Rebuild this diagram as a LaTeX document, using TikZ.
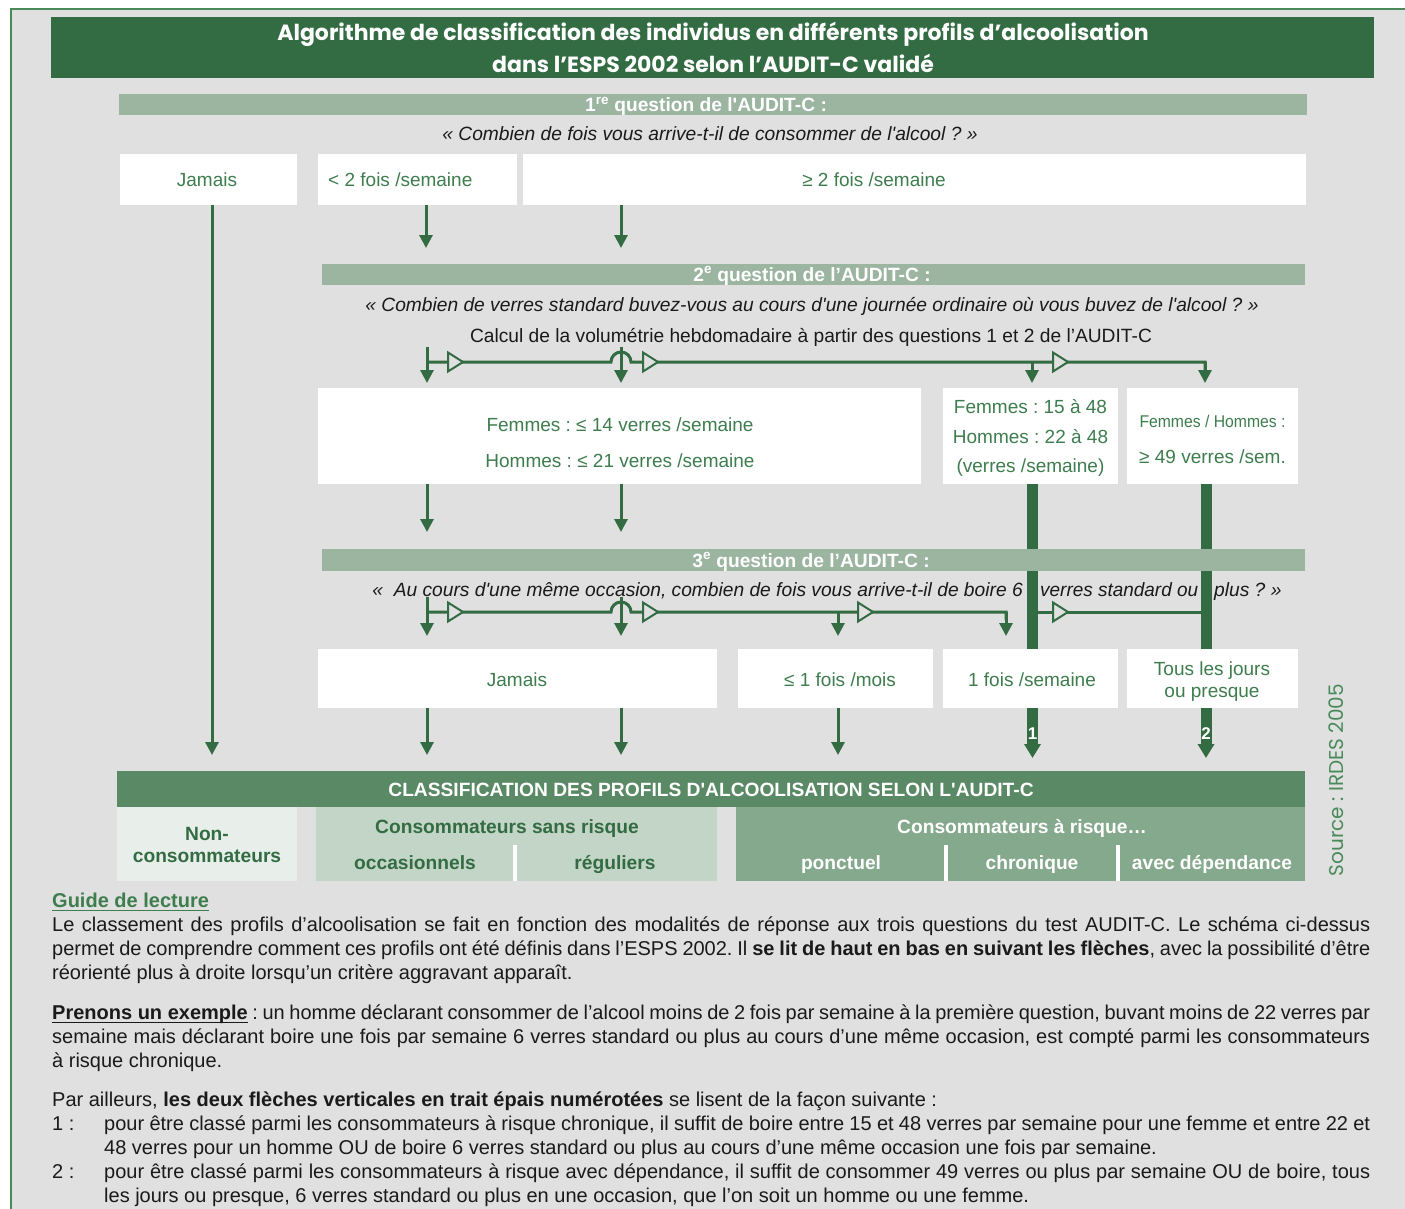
\documentclass[tikz,border=0pt]{standalone}
\usepackage{graphicx}
\usepackage{fontspec}
\setmainfont{Liberation Sans}
\newfontfamily\titlefont{Poppins}
\usetikzlibrary{arrows.meta}
\definecolor{dkgreen}{HTML}{336B42}
\definecolor{framegreen}{HTML}{4A8A5A}
\definecolor{qgreen}{HTML}{9BB5A0}
\definecolor{hdgreen}{HTML}{5A8A65}
\definecolor{argreen}{HTML}{85A98C}
\definecolor{srgreen}{HTML}{C3D5C7}
\definecolor{ncgreen}{HTML}{E8EFEA}
\definecolor{boxgreen}{HTML}{3E7D4E}
\definecolor{bgray}{HTML}{E0E0E0}
\definecolor{ink}{HTML}{1A1A1A}
\newcommand\myfs[2]{\fontsize{#1}{#2}\selectfont}
\newcommand\myul[1]{\leavevmode\setbox0\hbox{#1}\rlap{\rule[-3.2pt]{\wd0}{1.3pt}}\box0\relax}
\newcommand\otri[2]{\draw[draw=dkgreen, line width=2pt, fill=bgray, line join=miter] (#1,#2-9.5) -- (#1+15,#2) -- (#1,#2+9.5) -- cycle;}
\frenchspacing
\begin{document}
\begin{tikzpicture}[x=1pt,y=-1pt,
  bx/.style={fill=white, inner sep=0pt, draw=none},
  bt/.style={anchor=base, inner sep=0pt, text=boxgreen, font=\myfs{19}{22}},
  qbar/.style={fill=qgreen, inner sep=0pt, draw=none},
  qbt/.style={anchor=base, inner sep=0pt, text=white, font=\bfseries\myfs{19.2}{22}},
  qt/.style={anchor=base, inner sep=0pt, text=ink, font=\itshape\myfs{19.2}{22}},
  nt/.style={anchor=base, inner sep=0pt, text=ink, font=\myfs{19.2}{22}},
  arr/.style={draw=dkgreen, line width=3pt, -{Triangle[width=13pt,length=13pt]}},
  hl/.style={draw=dkgreen, line width=3pt},
  tarr/.style={draw=dkgreen, line width=11pt, -{Triangle[width=16pt,length=14pt]}},
  cbt/.style={anchor=base, inner sep=0pt, font=\bfseries\myfs{19.2}{22}},
  lbl/.style={anchor=base, inner sep=0pt, text=white, font=\bfseries\myfs{17}{20}}
]
\useasboundingbox (0,0) rectangle (1405,1209);
\fill[white] (0,0) rectangle (1405,1209);
\fill[bgray] (11,9) rectangle (1405,1209);
\draw[framegreen, line width=2pt] (11,1209) -- (11,9) -- (1405,9);

% title
\node[fill=dkgreen, inner sep=0pt, minimum width=1323pt, minimum height=61pt] (title) at (712.5,47.5) {};
\node[anchor=base, inner sep=0pt, text=white, font=\titlefont\bfseries\myfs{22}{26}] (t1) at (713,41) {Algorithme de classification des individus en différents profils d’alcoolisation};
\node[anchor=base, inner sep=0pt, text=white, font=\titlefont\bfseries\myfs{22}{26}] (t2) at (713,73) {dans l’ESPS 2002 selon l’AUDIT-C validé};

% question 1
\node[qbar, minimum width=1188pt, minimum height=21pt] (q1) at (713,104.5) {};
\node[qbt] (q1t) at (706,112) {1\textsuperscript{re} question de l\textquotesingle AUDIT-C :};
\node[qt] (q1q) at (710,141) {« Combien de fois vous arrive-t-il de consommer de l\textquotesingle alcool ? »};

% row 1
\node[bx, minimum width=177pt, minimum height=51pt] (j1) at (208.5,179.5) {};
\node[bt] at (207,186.5) (j1t) {Jamais};
\node[bx, minimum width=199pt, minimum height=51pt] (lt2) at (417.5,179.5) {};
\node[bt, anchor=base west] at (328,186.5) (lt2t) {< 2 fois /semaine};
\node[bx, minimum width=783pt, minimum height=51pt] (ge2) at (914.5,179.5) {};
\node[bt] at (874,186.5) (ge2t) {≥ 2 fois /semaine};

% question 2
\node[qbar, minimum width=983pt, minimum height=21pt] (q2) at (813.5,274.5) {};
\node[qbt] (q2t) at (812,281.5) {2\textsuperscript{e} question de l’AUDIT-C :};
\node[qt] (q2q) at (812,311) {« Combien de verres standard buvez-vous au cours d\textquotesingle une journée ordinaire où vous buvez de l\textquotesingle alcool ? »};
\node[nt] (calc) at (811,342) {Calcul de la volumétrie hebdomadaire à partir des questions 1 et 2 de l’AUDIT-C};

% named points
\coordinate (d2a) at (427,347);
\coordinate (d2b) at (621,347);
\coordinate (d2c) at (1032,362);
\coordinate (d2d) at (1205,362);
\coordinate (d3a) at (427,597);
\coordinate (d3b) at (621,597);
\coordinate (d3c) at (838,612);
\coordinate (d3d) at (1006,612);

% arrows row1 -> q2
\draw[arr] (j1.south -| 212,0) -- (212,755);
\draw[arr] (lt2.south -| 426,0) -- (426,248);
\draw[arr] (ge2.south -| 621,0) -- (621,248);

% distribution 2
\draw[hl] (d2a |- 0,362) -- (611,362) arc[start angle=180, end angle=360, radius=10] -- (d2d) -- ++(0,8);
\draw[arr] (d2a) -- (427,383);
\draw[arr] (d2b) -- (621,383);
\draw[arr] (d2c) -- (1032,383);
\draw[arr] (d2d) -- (1205,383);
\otri{448}{362}
\otri{643}{362}
\otri{1053}{362}

% row 2
\node[bx, minimum width=603pt, minimum height=96pt] (r2a) at (619.5,436) {};
\node[bt] (r2a1) at (620,431) {Femmes : ≤ 14 verres /semaine};
\node[bt] (r2a2) at (620,467) {Hommes : ≤ 21 verres /semaine};
\node[bx, minimum width=175pt, minimum height=96pt] (r2b) at (1030.5,436) {};
\node[bt] (r2b1) at (1030.5,413) {Femmes : 15 à 48};
\node[bt] (r2b2) at (1030.5,443) {Hommes : 22 à 48};
\node[bt] (r2b3) at (1030.5,472) {(verres /semaine)};
\node[bx, minimum width=171pt, minimum height=96pt] (r2c) at (1212.5,436) {};
\node[bt, font=\myfs{17}{20}] (r2c1) at (1212.5,427) {\resizebox{146pt}{\height}{Femmes / Hommes :}};
\node[bt] (r2c2) at (1212.5,463) {≥ 49 verres /sem.};

\draw[arr] (r2a.south -| 427,0) -- (427,532);
\draw[arr] (r2a.south -| 621,0) -- (621,532);

% question 3 text (under thick lines)
\node[qt, anchor=base east] (q3ta) at (1023,596) {«\ \ Au cours d\textquotesingle une même occasion, combien de fois vous arrive-t-il de boire 6};
\node[qt, anchor=base west] (q3tb) at (1040,596) {\resizebox{158pt}{\height}{verres standard ou}};
\node[qt, anchor=base west] (q3tc) at (1214,596) {plus ? »};

% thick arrows
\draw[tarr] (r2b.south -| 1032.5,0) -- (1032.5,758);
\draw[tarr] (r2c.south -| 1206,0) -- (1206,758);

% question 3 bar
\node[qbar, minimum width=983pt, minimum height=22pt] (q3) at (813.5,560) {};
\node[qbt] (q3t) at (811,567) {3\textsuperscript{e} question de l’AUDIT-C :};

% distribution 3
\draw[hl] (d3a |- 0,612) -- (611,612) arc[start angle=180, end angle=360, radius=10] -- (d3d) -- ++(0,8);
\draw[hl] (1038,612) -- (1201,612);
\draw[arr] (d3a) -- (427,636);
\draw[arr] (d3b) -- (621,636);
\draw[arr] (d3c) -- (838,636);
\draw[arr] (d3d) -- (1006,636);
\otri{448}{612}
\otri{643}{612}
\otri{858}{612}
\otri{1053}{612}

% row 3
\node[bx, minimum width=399pt, minimum height=59pt] (r3a) at (517.5,678.5) {};
\node[bt] (r3at) at (517,686) {Jamais};
\node[bx, minimum width=195pt, minimum height=59pt] (r3b) at (835.5,678.5) {};
\node[bt] (r3bt) at (840,686) {≤ 1 fois /mois};
\node[bx, minimum width=175pt, minimum height=59pt] (r3c) at (1030.5,678.5) {};
\node[bt] (r3ct) at (1032,686) {1 fois /semaine};
\node[bx, minimum width=171pt, minimum height=59pt] (r3d) at (1212.5,678.5) {};
\node[bt] (r3d1) at (1212,675) {Tous les jours};
\node[bt] (r3d2) at (1212,697) {ou presque};

\draw[arr] (r3a.south -| 427,0) -- (427,755);
\draw[arr] (r3a.south -| 621,0) -- (621,755);
\draw[arr] (r3b.south -| 838,0) -- (838,755);

\node[lbl] (n1) at (1032.5,739) {1};
\node[lbl] (n2) at (1206,739) {2};

% classification
\node[fill=hdgreen, inner sep=0pt, minimum width=1188pt, minimum height=36pt] (cls) at (711,789) {};
\node[cbt, text=white] (clst) at (711,796) {CLASSIFICATION DES PROFILS D\textquotesingle ALCOOLISATION SELON L\textquotesingle AUDIT-C};

\node[fill=ncgreen, inner sep=0pt, minimum width=180pt, minimum height=74pt] (nc) at (207,844) {};
\node[cbt, text=dkgreen] (nc1) at (207,840) {Non-};
\node[cbt, text=dkgreen] (nc2) at (207,862) {consommateurs};

\node[fill=srgreen, inner sep=0pt, minimum width=401pt, minimum height=74pt] (sr) at (516.5,844) {};
\node[cbt, text=dkgreen] (sr0) at (507,833) {Consommateurs sans risque};
\node[cbt, text=dkgreen] (sr1) at (415,869) {occasionnels};
\node[cbt, text=dkgreen] (sr2) at (615,869) {réguliers};
\draw[white, line width=4pt] (515,845) -- (515,881);

\node[fill=argreen, inner sep=0pt, minimum width=569pt, minimum height=74pt] (ar) at (1020.5,844) {};
\node[cbt, text=white] (ar0) at (1022,833) {Consommateurs à risque…};
\node[cbt, text=white] (ar1) at (841,869) {ponctuel};
\node[cbt, text=white] (ar2) at (1032,869) {chronique};
\node[cbt, text=white] (ar3) at (1212,869) {avec dépendance};
\draw[white, line width=4pt] (946,845) -- (946,881);
\draw[white, line width=4pt] (1118,845) -- (1118,881);

% source
\node[rotate=90, inner sep=0pt, text=framegreen, font=\titlefont\myfs{20}{22}] (src) at (1336,780) {Source : IRDES 2005};

% reading guide
\node[anchor=north west, inner sep=0pt, text width=1318pt, align=justify, text=ink, font=\myfs{20}{24}] (guide) at (52,890.7) {%
\strut\textcolor{boxgreen}{\myul{\textbf{Guide de lecture}}}\par
Le classement des profils d’alcoolisation se fait en fonction des modalités de réponse aux trois questions du test AUDIT-C. Le schéma ci-dessus\linebreak permet de comprendre comment ces profils ont été définis dans l’ESPS 2002. Il \textbf{se lit de haut en bas en suivant les flèches}, avec la possibilité d’être\linebreak réorienté plus à droite lorsqu’un critère aggravant apparaît.\par\vspace{16pt}
\myul{\textbf{Prenons un exemple}} : un homme déclarant consommer de l’alcool moins de 2 fois par semaine à la première question, buvant moins de 22 verres par\linebreak semaine mais déclarant boire une fois par semaine 6 verres standard ou plus au cours d’une même occasion, est compté parmi les consommateurs\linebreak à risque chronique.\par\vspace{15pt}
Par ailleurs, \textbf{les deux flèches verticales en trait épais numérotées} se lisent de la façon suivante :\par
\hangindent=52pt\hangafter=0\noindent\llap{\makebox[52pt][l]{1 :}}pour être classé parmi les consommateurs à risque chronique, il suffit de boire entre 15 et 48 verres par semaine pour une femme et entre 22 et\linebreak 48 verres pour un homme OU de boire 6 verres standard ou plus au cours d’une même occasion une fois par semaine.\par
\hangindent=52pt\hangafter=0\noindent\llap{\makebox[52pt][l]{2 :}}pour être classé parmi les consommateurs à risque avec dépendance, il suffit de consommer 49 verres ou plus par semaine OU de boire, tous\linebreak les jours ou presque, 6 verres standard ou plus en une occasion, que l’on soit un homme ou une femme.\par};
\end{tikzpicture}
\end{document}
